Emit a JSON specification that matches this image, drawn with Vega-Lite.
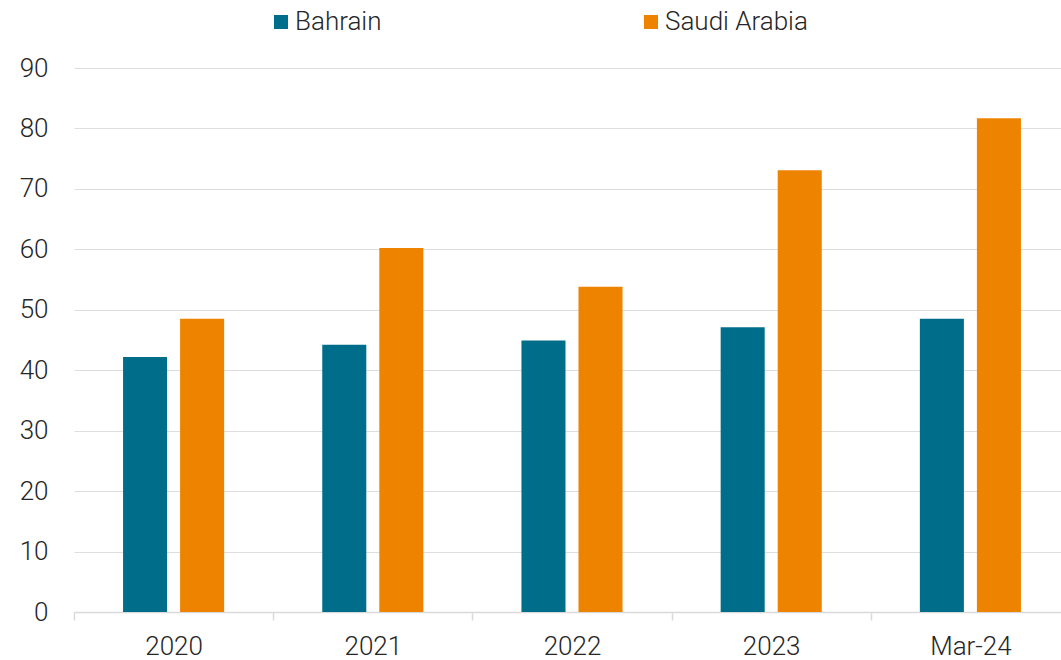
{
  "$schema": "https://vega.github.io/schema/vega-lite/v6.json",
  "width": 996,
  "height": 544,
  "autosize": {"type": "none"},
  "padding": {"left": 74, "top": 68, "right": 0, "bottom": 48},
  "background": "white",
  "config": {
    "view": {"stroke": null},
    "font": "Roboto",
    "text": {"font": "Roboto"}
  },
  "data": {
    "values": [
      {"period": "2020", "country": "Bahrain", "value": 42.2},
      {"period": "2020", "country": "Saudi Arabia", "value": 48.5},
      {"period": "2021", "country": "Bahrain", "value": 44.2},
      {"period": "2021", "country": "Saudi Arabia", "value": 60.2},
      {"period": "2022", "country": "Bahrain", "value": 44.9},
      {"period": "2022", "country": "Saudi Arabia", "value": 53.8},
      {"period": "2023", "country": "Bahrain", "value": 47.1},
      {"period": "2023", "country": "Saudi Arabia", "value": 73.1},
      {"period": "Mar-24", "country": "Bahrain", "value": 48.5},
      {"period": "Mar-24", "country": "Saudi Arabia", "value": 81.7}
    ]
  },
  "mark": {"type": "bar"},
  "encoding": {
    "x": {
      "field": "period",
      "type": "nominal",
      "sort": null,
      "scale": {"paddingInner": 0, "paddingOuter": 0},
      "axis": {
        "title": null,
        "labelAngle": 0,
        "labelFontSize": 26,
        "labelFontWeight": 300,
        "labelColor": "#262626",
        "labelPadding": 13,
        "domainColor": "#d9d9d9",
        "domainWidth": 1.5,
        "tickColor": "#d9d9d9",
        "tickSize": 8,
        "tickWidth": 1.5,
        "tickBand": "extent",
        "grid": false
      }
    },
    "xOffset": {
      "field": "country",
      "type": "nominal",
      "scale": {"paddingInner": 0.228, "paddingOuter": 0.86}
    },
    "y": {
      "field": "value",
      "type": "quantitative",
      "scale": {"domain": [0, 90]},
      "axis": {
        "title": null,
        "values": [0, 10, 20, 30, 40, 50, 60, 70, 80, 90],
        "labelFontSize": 26,
        "labelFontWeight": 300,
        "labelColor": "#262626",
        "labelPadding": 26,
        "ticks": false,
        "domain": false,
        "gridColor": "#dedede",
        "gridWidth": 1.2
      }
    },
    "color": {
      "field": "country",
      "type": "nominal",
      "scale": {"domain": ["Bahrain", "Saudi Arabia"], "range": ["#006E8A", "#EE8300"]},
      "legend": {
        "title": null,
        "orient": "none",
        "direction": "horizontal",
        "legendX": 194,
        "legendY": -59,
        "symbolType": "square",
        "symbolSize": 196,
        "symbolStrokeWidth": 0,
        "labelFontSize": 26,
        "labelFontWeight": 300,
        "labelColor": "#262626",
        "labelOffset": 1,
        "columnPadding": 256
      }
    }
  }
}
